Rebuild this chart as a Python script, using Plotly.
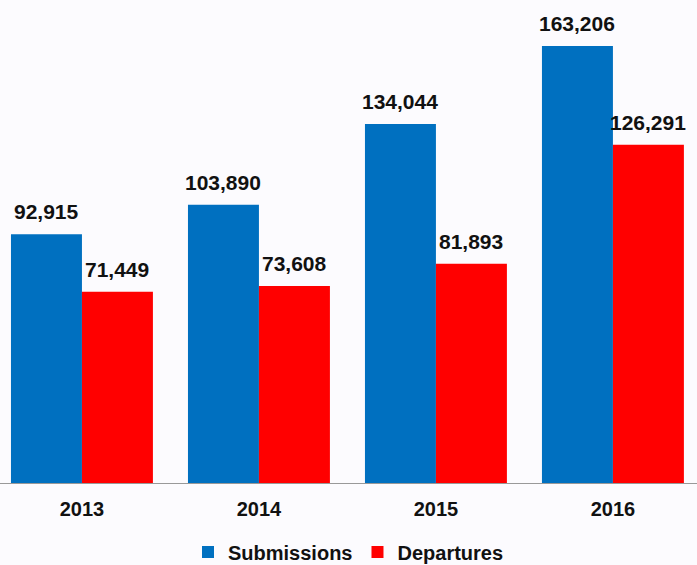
import plotly.graph_objects as go

years = ["2013", "2014", "2015", "2016"]
submissions = [92915, 103890, 134044, 163206]
departures = [71449, 73608, 81893, 126291]

font_family = "Liberation Sans, Arial, sans-serif"
bg = "#FCFBFE"
label_font = dict(size=21, color="#111111", family=font_family)

fig = go.Figure()
fig.add_trace(go.Bar(
    name="<b>Submissions</b>", x=years, y=submissions,
    marker=dict(color="#0070C0", line=dict(width=0)),
))
fig.add_trace(go.Bar(
    name="<b>Departures</b>", x=years, y=departures,
    marker=dict(color="#FF0000", line=dict(width=0)),
))

# value labels above each bar (grouped: each bar is 71 px wide, offset ±35.5 px)
for series, xshift in ((submissions, -35.5), (departures, 35.5)):
    for i, v in enumerate(series):
        fig.add_annotation(
            x=i, y=v, xref="x", yref="y", text=f"<b>{v:,}</b>",
            showarrow=False, xanchor="center", yanchor="middle",
            xshift=xshift, yshift=22.5, font=dict(label_font),
        )

fig.update_layout(
    width=697, height=565,
    margin=dict(l=0, r=0, t=0, b=82, autoexpand=False),
    paper_bgcolor=bg, plot_bgcolor=bg,
    barmode="group", bargap=0.198, bargroupgap=0,
    font=dict(family=font_family, size=20, color="#111111"),
    showlegend=True,
    legend=dict(orientation="h", x=0.5, xanchor="center", y=-0.143, yanchor="middle",
                font=dict(size=20, color="#111111", family=font_family),
                itemwidth=30, bgcolor="rgba(0,0,0,0)"),
)
fig.update_xaxes(
    type="category", range=[-0.463, 3.475], automargin=False,
    showline=True, linecolor="#999999", linewidth=1,
    ticks="outside", ticklen=8, tickcolor="rgba(0,0,0,0)",
    tickfont=dict(size=20, color="#111111", family=font_family),
    tickprefix="<b>", ticksuffix="</b>",
    showgrid=False, zeroline=False,
)
fig.update_yaxes(
    range=[0, 180360], visible=False, showgrid=False, zeroline=False, automargin=False,
)

fig.write_html("out.html", config={"displayModeBar": False},
               post_script="document.body.style.margin='0';document.body.style.overflow='hidden';")
